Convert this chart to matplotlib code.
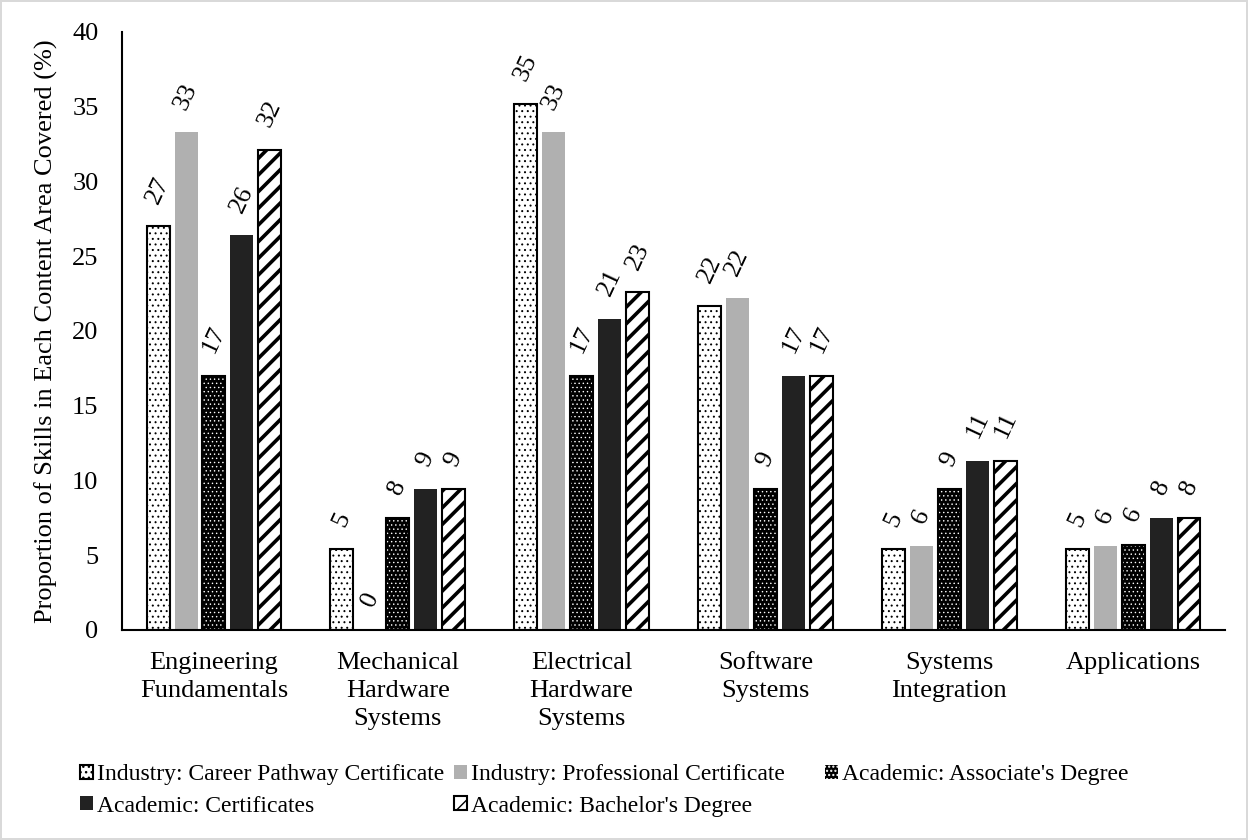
import matplotlib
matplotlib.use("Agg")
import matplotlib.pyplot as plt
import numpy as np
from matplotlib.patches import Patch

categories = ["Engineering\nFundamentals", "Mechanical\nHardware\nSystems",
              "Electrical\nHardware\nSystems", "Software\nSystems",
              "Systems\nIntegration", "Applications"]
series_names = ["Industry: Career Pathway Certificate",
                "Industry: Professional Certificate",
                "Academic: Associate's Degree",
                "Academic: Certificates",
                "Academic: Bachelor's Degree"]
career_pathway = [27.0, 5.4, 35.2, 21.7, 5.4, 5.4]
professional = [33.3, 0.0, 33.3, 22.2, 5.6, 5.6]
associate = [17.0, 7.5, 17.0, 9.4, 9.4, 5.7]
certificates = [26.4, 9.4, 20.8, 17.0, 11.3, 7.5]
bachelor = [32.1, 9.4, 22.6, 17.0, 11.3, 7.5]
yticks = [0, 5, 10, 15, 20, 25, 30, 35, 40]

series = [career_pathway, professional, associate, certificates, bachelor]

plt.rcParams['font.family'] = ['Liberation Serif', 'DejaVu Serif']

fig = plt.figure(figsize=(12.48, 8.4), dpi=100)
fig.patch.set_edgecolor('#d9d9d9')
fig.patch.set_linewidth(1.5)
ax = fig.add_axes([0.0978, 0.25, 0.8838, 0.712])

x = np.arange(len(categories))
step = 0.152
width = 0.125

styles = [
    (dict(facecolor='white', edgecolor='black', hatch='...', linewidth=1.5), 0.7),
    (dict(facecolor='#b0b0b0', edgecolor='none', linewidth=0), 1.0),
    (dict(facecolor='black', edgecolor='white', hatch='....', linewidth=0), 0.5),
    (dict(facecolor='#222222', edgecolor='none', linewidth=0), 1.0),
    (dict(facecolor='white', edgecolor='black', hatch='//', linewidth=1.5), 2.6),
]

handles = []
for j, vals in enumerate(series):
    pos = x + (j - 2) * step
    st, hlw = styles[j]
    with plt.rc_context({'hatch.linewidth': hlw}):
        bars = ax.bar(pos, vals, width, zorder=2, **st)
        if j == 2:
            ax.bar(pos, vals, width, facecolor='none', edgecolor='black',
                   linewidth=1.5, zorder=3)
            h = Patch(label=series_names[j], **st)
        else:
            h = bars.patches[0]
    handles.append(h)
    for p, v in zip(pos, vals):
        ax.text(p, v + 1.3, f"{v:.0f}", rotation=65, ha='center', va='bottom',
                fontsize=19)

ax.set_ylim(0, 40)
ax.set_xlim(-0.5, len(categories) - 0.5)
ax.set_yticks(yticks)
ax.set_xticks(x)
ax.set_xticklabels(categories, fontsize=19, linespacing=1.35)
ax.tick_params(axis='y', labelsize=19, length=0, pad=17)
ax.tick_params(axis='x', length=0, pad=16)
for s in ['top', 'right']:
    ax.spines[s].set_visible(False)
for s in ['left', 'bottom']:
    ax.spines[s].set_linewidth(1.5)
ax.set_ylabel("Proportion of Skills in Each Content Area Covered (%)", fontsize=19,
              labelpad=10)

leg_kw = dict(loc='upper left', frameon=False, fontsize=17, handlelength=0.55,
              handleheight=0.55, handletextpad=0.17, labelspacing=0.45,
              borderaxespad=0, borderpad=0)
order = [0, 3, 1, 4]
leg1 = fig.legend([handles[i] for i in order], [series_names[i] for i in order],
                  bbox_to_anchor=(80 / 1248, 1 - 764 / 840), ncol=2,
                  columnspacing=0.42, **leg_kw)
leg2 = fig.legend([handles[2]], [series_names[2]],
                  bbox_to_anchor=(825 / 1248, 1 - 764 / 840), ncol=1, **leg_kw)

fig.savefig("out.png", dpi=100)
